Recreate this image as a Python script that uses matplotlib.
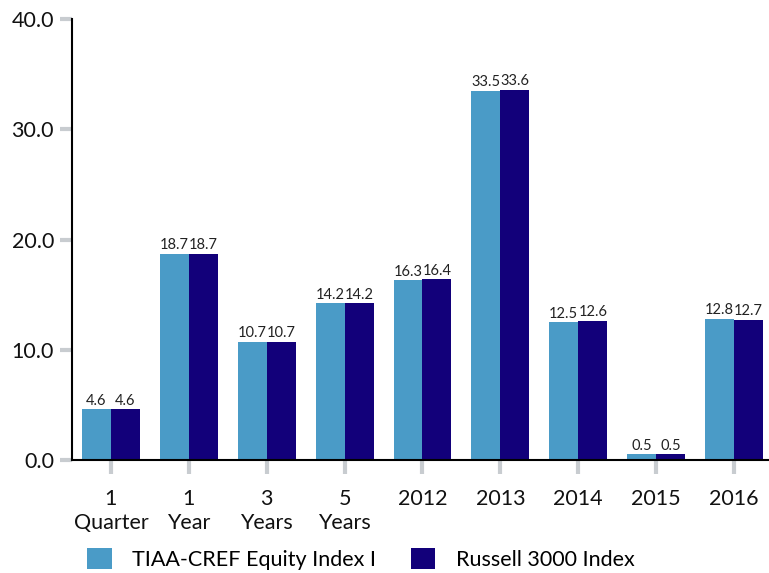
import matplotlib
matplotlib.use("Agg")
import matplotlib.pyplot as plt
import numpy as np

categories = ["1\nQuarter", "1\nYear", "3\nYears", "5\nYears", "2012", "2013", "2014", "2015", "2016"]
fund = [4.6, 18.7, 10.7, 14.2, 16.3, 33.5, 12.5, 0.5, 12.8]
index = [4.6, 18.7, 10.7, 14.2, 16.4, 33.6, 12.6, 0.5, 12.7]
series_names = ["TIAA-CREF Equity Index I", "Russell 3000 Index"]
yticks = [0.0, 10.0, 20.0, 30.0, 40.0]

plt.rcParams['font.family'] = ['Lato', 'DejaVu Sans']
c1 = "#4a9bc7"
c2 = "#12007a"

fig = plt.figure(figsize=(7.69, 5.73), dpi=100)
W, H = 769, 573
ax = fig.add_axes([72 / W, 1 - 460 / H, (773 - 72) / W, (460 - 19) / H])

x = np.arange(len(categories))
bw = 0.372
b1 = ax.bar(x - bw / 2, fund, bw, color=c1, label=series_names[0])
b2 = ax.bar(x + bw / 2, index, bw, color=c2, label=series_names[1])
for bars, vals in ((b1, fund), (b2, index)):
    for r, v in zip(bars, vals):
        ax.text(r.get_x() + r.get_width() / 2, v + 0.15, f"{v:.1f}", ha="center", va="bottom",
                fontsize=10.5, color="#222222")

ax.set_xlim(-0.5, 8.5)
ax.set_ylim(0, 40)
ax.set_yticks(yticks)
ax.set_yticklabels([f"{t:.1f}" for t in yticks], fontsize=15.5, color="#111111")
ax.set_xticks(x)
ax.set_xticklabels(categories, fontsize=15.5, color="#111111", linespacing=1.25)
for s in ["top", "right"]:
    ax.spines[s].set_visible(False)
ax.spines["left"].set_linewidth(1.5)
ax.spines["bottom"].set_linewidth(1.5)
ax.tick_params(axis="y", length=9, width=3, color="#c8ccd0", pad=4)
ax.tick_params(axis="x", length=10, width=3, color="#c8ccd0", pad=11)

leg = fig.legend(handles=[b1, b2], labels=series_names, loc="lower left",
                 bbox_to_anchor=(87 / W, 3 / H), ncol=2, frameon=False, fontsize=15.5,
                 borderpad=0, borderaxespad=0,
                 handlelength=1.15, handleheight=1.15, columnspacing=1.6, handletextpad=0.95)

fig.savefig("out.png", dpi=100)
